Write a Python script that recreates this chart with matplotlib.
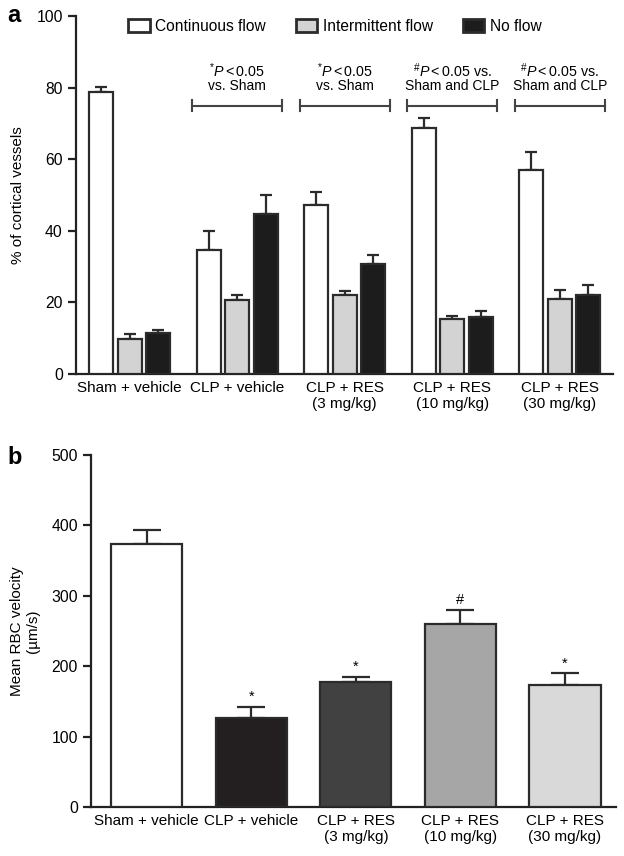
import matplotlib
matplotlib.use("Agg")
import matplotlib.pyplot as plt
import numpy as np
from matplotlib.patches import Patch

plt.rcParams['font.family'] = ['Liberation Sans', 'DejaVu Sans']
plt.rcParams['mathtext.fontset'] = 'custom'
plt.rcParams['mathtext.rm'] = 'Liberation Sans'
plt.rcParams['mathtext.it'] = 'Liberation Sans:italic'

# ---- data ----
groups = ["Sham + vehicle", "CLP + vehicle", "CLP + RES\n(3 mg/kg)",
          "CLP + RES\n(10 mg/kg)", "CLP + RES\n(30 mg/kg)"]

# panel a: % of cortical vessels (mean, top of error bar)
cont = [78.7, 34.6, 47.1, 68.8, 57.0]
cont_top = [80.3, 39.9, 50.8, 71.4, 61.9]
inter = [9.9, 20.7, 22.2, 15.3, 20.9]
inter_top = [11.1, 22.1, 23.2, 16.3, 23.6]
noflow = [11.5, 44.8, 30.8, 16.0, 22.2]
noflow_top = [12.3, 50.1, 33.3, 17.7, 25.0]
sig_line1 = [None, r"${}^{*}P < 0.05$", r"${}^{*}P < 0.05$",
             r"${}^{\#}P < 0.05$ vs.", r"${}^{\#}P < 0.05$ vs."]
sig_line2 = [None, "vs. Sham", "vs. Sham", "Sham and CLP", "Sham and CLP"]

# panel b: mean RBC velocity (µm/s)
rbc = [374, 127, 178, 260, 174]
rbc_top = [394, 142, 185, 280, 190]
rbc_marks = ["", "*", "*", "#", "*"]

edge = '#2b2b2b'
fig = plt.figure(figsize=(6.24, 8.56), dpi=100)

# ================= panel a =================
ax = fig.add_axes([76/624, 1-374/856, 537/624, 358/856])
x = np.arange(len(groups))
w, off = 0.22, 0.265
series = [(cont, cont_top, 'white', "Continuous flow"),
          (inter, inter_top, '#d3d3d3', "Intermittent flow"),
          (noflow, noflow_top, '#1c1c1c', "No flow")]
handles = []
for k, (vals, tops, col, lab) in enumerate(series):
    xs = x + (k - 1) * off
    ax.bar(xs, vals, w, color=col, edgecolor=edge, linewidth=1.6, zorder=3)
    up = np.array(tops) - np.array(vals)
    ax.errorbar(xs, vals, yerr=[np.zeros_like(up), up], fmt='none',
                ecolor=edge, elinewidth=1.6, capsize=4.3, capthick=1.6, zorder=2)
    handles.append(Patch(facecolor=col, edgecolor=edge, linewidth=2, label=lab))

# significance brackets
for i in range(1, len(groups)):
    ax.plot([i - 0.42, i + 0.42], [75, 75], color='#444444', lw=1.5)
    ax.plot([i - 0.42, i - 0.42], [73.5, 76.5], color='#444444', lw=1.5)
    ax.plot([i + 0.42, i + 0.42], [73.5, 76.5], color='#444444', lw=1.5)
    ax.text(i, 84.7, sig_line1[i], ha='center', va='center', fontsize=10.3)
    ax.text(i, 80.4, sig_line2[i], ha='center', va='center', fontsize=10)

ax.set_xlim(-0.5, 4.495)
ax.set_ylim(0, 100)
ax.set_yticks([0, 20, 40, 60, 80, 100])
ax.set_xticks(x)
ax.set_xticklabels(groups)
ax.set_ylabel("% of cortical vessels", fontsize=11, labelpad=8)
ax.legend(handles=handles, loc='center left', bbox_to_anchor=(0.097, 0.972),
          ncol=3, frameon=False, fontsize=11.2, borderpad=0, borderaxespad=0,
          handlelength=1.4, handleheight=0.9, handletextpad=0.35,
          columnspacing=1.9)
fig.text(7/624, 1-16/856, "a", fontsize=17, fontweight='bold', va='center')

# ================= panel b =================
bx = fig.add_axes([91/624, 1-807/856, 525/624, 352/856])
bcolors = ['white', '#231f20', '#414141', '#a6a6a6', '#d9d9d9']
bx.bar(x, rbc, 0.68, color=bcolors, edgecolor=edge, linewidth=1.6, zorder=3)
up = np.array(rbc_top) - np.array(rbc)
bx.errorbar(x, rbc, yerr=[np.zeros_like(up), up], fmt='none', ecolor=edge,
            elinewidth=1.6, capsize=10.4, capthick=1.6, zorder=2)
for i, m in enumerate(rbc_marks):
    if m:
        bx.text(i, rbc_top[i] + 4, m, ha='center', va='bottom', fontsize=10.5)
bx.set_xlim(-0.532, 4.487)
bx.set_ylim(0, 500)
bx.set_yticks([0, 100, 200, 300, 400, 500])
bx.set_xticks(x)
bx.set_xticklabels(groups)
bx.set_ylabel("Mean RBC velocity\n(µm/s)", fontsize=11, labelpad=8)
fig.text(7/624, 1-458/856, "b", fontsize=17, fontweight='bold', va='center')

for a in (ax, bx):
    for s in ('top', 'right'):
        a.spines[s].set_visible(False)
    for s in ('left', 'bottom'):
        a.spines[s].set_linewidth(1.6)
        a.spines[s].set_color('#222222')
    a.tick_params(axis='y', length=6, width=1.6, labelsize=11.3, color='#222222')
    a.tick_params(axis='x', length=0, labelsize=11, pad=5)

fig.savefig("out.png", dpi=100)
